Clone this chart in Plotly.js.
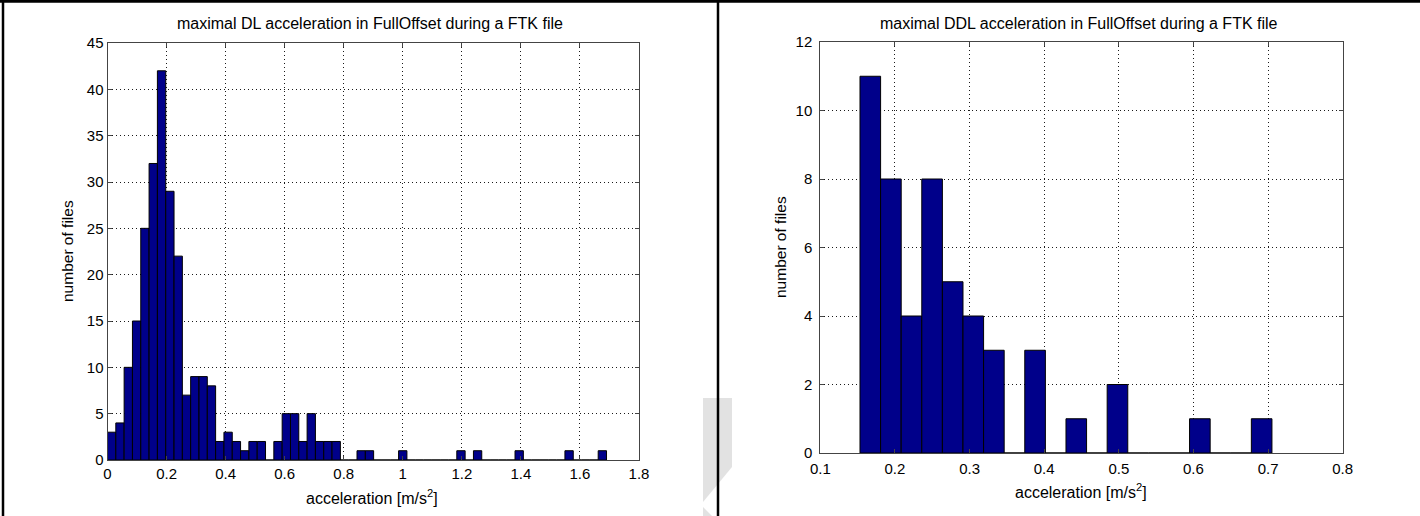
<!DOCTYPE html>
<html>
<head>
<meta charset="utf-8">
<script src="https://cdn.plot.ly/plotly-3.0.1.min.js"></script>
<style>
  html, body { margin: 0; padding: 0; background: #fff; }
  #chart { width: 1420px; height: 516px; }
</style>
</head>
<body>
<div id="chart"></div>
<script>
// Histogram counts of maximal DL acceleration (60 equal bins)
const dlCounts = [
  3, 4, 10, 15, 25, 32, 42, 29, 22, 7,
  9, 9, 8, 2, 3, 2, 1, 2, 2, 0,
  2, 5, 5, 2, 5, 2, 2, 2, 0, 0,
  1, 1, 0, 0, 0, 1, 0, 0, 0, 0,
  0, 0, 1, 0, 1, 0, 0, 0, 0, 1,
  0, 0, 0, 0, 0, 1, 0, 0, 0, 1
];
// Data span covered by the DL bins [min, max] in m/s^2
const dlSpan = [0.0, 1.690];

// Histogram counts of maximal DDL acceleration (20 equal bins)
const ddlCounts = [11, 8, 4, 8, 5, 4, 3, 0, 3, 0, 1, 0, 2, 0, 0, 0, 1, 0, 0, 1];
const ddlSpan = [0.1532, 0.7052];

const titles = [
  'maximal DL acceleration in FullOffset during a FTK file',
  'maximal DDL acceleration in FullOffset during a FTK file'
];
const xLabel = 'acceleration [m/s<sup>2</sup>]';
const yLabel = 'number of files';

// Bin centres / width, as a hist() call would lay them out
function bins(counts, span) {
  const n = counts.length;
  const w = (span[1] - span[0]) / n;
  const centers = counts.map((_, i) => span[0] + (i + 0.5) * w);
  return { centers, w };
}

const W = 1420, H = 516;
const px = x => x / W;
const py = y => 1 - y / H;

const FONT = 'Liberation Sans, Arial, Helvetica, sans-serif';
const BAR_FILL = '#00008a';

const dl = bins(dlCounts, dlSpan);
const ddl = bins(ddlCounts, ddlSpan);

const traces = [
  {
    type: 'bar', x: dl.centers, y: dlCounts, width: dl.w,
    xaxis: 'x', yaxis: 'y',
    marker: { color: BAR_FILL, line: { color: '#000', width: 1 } },
    hoverinfo: 'x+y'
  },
  {
    type: 'bar', x: ddl.centers, y: ddlCounts, width: ddl.w,
    xaxis: 'x2', yaxis: 'y2',
    marker: { color: BAR_FILL, line: { color: '#000', width: 1 } },
    hoverinfo: 'x+y'
  }
];

function axisStyle(extra) {
  return Object.assign({
    showgrid: true,
    gridcolor: '#1a1a1a',
    gridwidth: 1,
    griddash: '1px,3px',
    zeroline: false,
    showline: true,
    linecolor: '#444',
    linewidth: 1,
    mirror: 'ticks',
    ticks: 'inside',
    ticklen: 4,
    tickcolor: '#444',
    tickfont: { family: FONT, size: 15, color: '#000' },
    fixedrange: true
  }, extra);
}

function label(text, x, y, size, angle) {
  return {
    text, x: px(x), y: py(y), xref: 'paper', yref: 'paper', showarrow: false,
    textangle: angle || 0, xanchor: 'center', yanchor: 'middle',
    font: { family: FONT, size, color: '#000' }
  };
}

const layout = {
  width: W, height: H,
  margin: { l: 0, r: 0, t: 0, b: 0, pad: 0 },
  paper_bgcolor: '#fff',
  plot_bgcolor: '#fff',
  showlegend: false,
  bargap: 0,
  font: { family: FONT, size: 15, color: '#000' },
  xaxis: axisStyle({ domain: [px(107.5), px(639)], range: [0, 1.8], dtick: 0.2, tick0: 0, anchor: 'y' }),
  yaxis: axisStyle({ domain: [py(460), py(43)], range: [0, 45], dtick: 5, tick0: 0, anchor: 'x' }),
  xaxis2: axisStyle({ domain: [px(820.3), px(1342.7)], range: [0.1, 0.8], dtick: 0.1, tick0: 0.1, anchor: 'y2', ticklabelstandoff: 2 }),
  yaxis2: axisStyle({ domain: [py(453), py(42)], range: [0, 12], dtick: 2, tick0: 0, anchor: 'x2', ticklabelstandoff: 4 }),
  annotations: [
    label(titles[0], 370, 24, 16),
    label(titles[1], 1079, 24, 16),
    label(xLabel, 372, 497, 16),
    label(xLabel, 1081, 491, 16),
    label(yLabel, 67, 251, 15.5, -90),
    label(yLabel, 781, 247, 15.5, -90)
  ],
  shapes: [
    // light grey slanted mark near the bottom of the divider
    { type: 'path', xref: 'paper', yref: 'paper', layer: 'below', line: { width: 0 }, fillcolor: '#e2e2e2',
      path: `M ${px(703)} ${py(398)} L ${px(732)} ${py(398)} L ${px(732)} ${py(467)} L ${px(703)} ${py(502)} Z` },
    { type: 'path', xref: 'paper', yref: 'paper', layer: 'below', line: { width: 0 }, fillcolor: '#e2e2e2',
      path: `M ${px(703)} ${py(507)} L ${px(712)} ${py(516)} L ${px(703)} ${py(516)} Z` },
    // frame: top edge, left edge and the divider between the two panels
    { type: 'line', xref: 'paper', yref: 'paper', x0: 0, x1: 1, y0: py(1.2), y1: py(1.2), line: { color: '#000', width: 3 } },
    { type: 'line', xref: 'paper', yref: 'paper', x0: px(3), x1: px(3), y0: 0, y1: 1, line: { color: '#000', width: 2.5 } },
    { type: 'line', xref: 'paper', yref: 'paper', x0: px(718), x1: px(718), y0: 0, y1: 1, line: { color: '#000', width: 2.5 } }
  ]
};

Plotly.newPlot('chart', traces, layout, { staticPlot: true, displayModeBar: false });
</script>
</body>
</html>
